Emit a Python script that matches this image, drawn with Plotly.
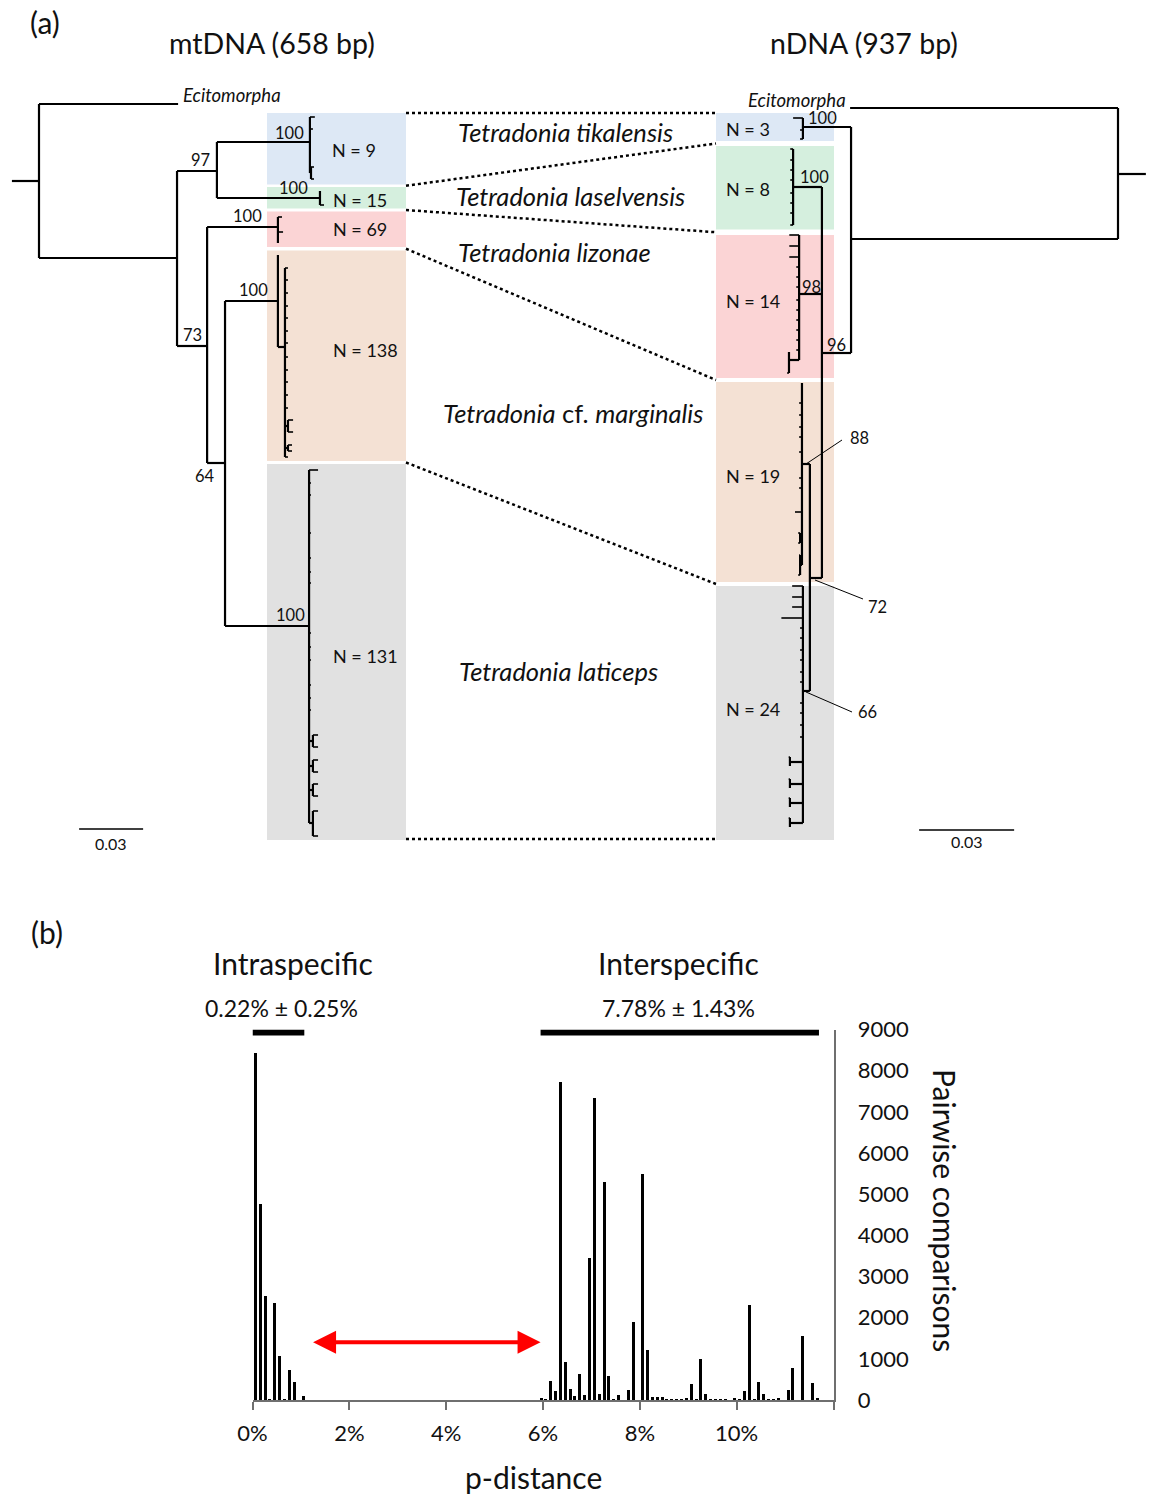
import plotly.graph_objects as go
from collections import defaultdict

FONT = "Lato"

# ---------------- Panel (b): pairwise p-distance histogram (%) ----------------
intra_pdist = [0.05, 0.15, 0.25, 0.35, 0.45, 0.55, 0.65, 0.75, 0.85, 1.05]
intra_count = [8450, 4770, 2550, 20, 2380, 1070, 30, 730, 440, 120]

inter_pdist = [5.95, 6.05, 6.15, 6.25, 6.35, 6.45, 6.55, 6.65, 6.75, 6.85,
               6.95, 7.05, 7.15, 7.25, 7.35, 7.45, 7.55, 7.75, 7.85, 8.05,
               8.15, 8.25, 8.35, 8.45, 8.55, 8.65, 8.75, 8.85, 8.95, 9.05,
               9.15, 9.25, 9.35, 9.45, 9.55, 9.65, 9.75, 9.95, 10.05, 10.15,
               10.25, 10.35, 10.45, 10.55, 10.65, 10.75, 10.85, 11.05, 11.15, 11.35,
               11.55, 11.65]
inter_count = [55, 15, 470, 220, 7730, 930, 280, 120, 640, 140,
               3470, 7350, 170, 5310, 600, 20, 140, 260, 1900, 5500,
               1220, 80, 80, 80, 20, 20, 20, 20, 60, 400,
               20, 1000, 170, 20, 20, 20, 20, 60, 20, 230,
               2320, 40, 460, 150, 20, 20, 60, 250, 790, 1570,
               420, 60]

group_names = ["Intraspecific", "Interspecific"]
group_stats = ["0.22% ± 0.25%", "7.78% ± 1.43%"]
group_spans = [[0.0, 1.07], [5.95, 11.7]]
barcode_gap = [1.22, 5.95]

x_ticks = [0, 2, 4, 6, 8, 10, 12]
x_ticktext = ["0%", "2%", "4%", "6%", "8%", "10%", ""]
y_ticks = [0, 1000, 2000, 3000, 4000, 5000, 6000, 7000, 8000, 9000]

# ---------------- Panel (a): trees (depth in substitutions/site, y = row) ----------------
mt_nodes = [
    ("stem", None, -0.0127, 181),
    ("root", "stem", 0.0, 181),
    ("Ecitomorpha", "root", 0.0652, 104),
    ("ingroup", "root", 0.0647, 258),
    ("n97", "ingroup", 0.0834, 171),
    ("tik", "n97", 0.1270, 142),
    ("tik1", "tik", 0.1293, 117),
    ("tik2", "tik", 0.1284, 129),
    ("tik3", "tik", 0.1275, 173),
    ("tik3a", "tik3", 0.1289, 167),
    ("tik3b", "tik3", 0.1289, 179),
    ("las", "n97", 0.1317, 198),
    ("las1", "las", 0.1317, 191),
    ("las2", "las", 0.1336, 205),
    ("n73", "ingroup", 0.0788, 346),
    ("liz", "n73", 0.1120, 227),
    ("liz1", "liz", 0.1139, 217),
    ("liz2", "liz", 0.1144, 232),
    ("liz3", "liz", 0.1120, 243),
    ("n64", "n73", 0.0872, 463),
    ("mar", "n64", 0.1120, 301),
    ("mar1", "mar", 0.1120, 255),
    ("mar2", "mar", 0.1153, 347),
    ("mar2c", "mar2", 0.1167, 426),
    ("mar2c1", "mar2c", 0.1191, 420),
    ("mar2c2", "mar2c", 0.1191, 432),
    ("mar2d", "mar2", 0.1167, 448),
    ("mar2d1", "mar2d", 0.1186, 445),
    ("mar2d2", "mar2d", 0.1186, 451),
    ("lat", "n64", 0.1266, 626),
    ("lat0", "lat", 0.1308, 470),
]
mt_mar2_tip_rows = [268, 280, 293, 306, 318, 331, 343, 357, 370, 382, 395, 408, 457]
mt_mar2_tip_depth = 0.1167
mt_lat_tip_rows = [483, 495, 533, 558, 572, 583, 633, 647, 660, 685, 698, 710]
mt_lat_tip_depth = 0.1275
mt_lat_sub_rows = [(741, 735, 747), (766, 760, 772), (790, 784, 796), (823, 811, 836)]
mt_lat_sub_depth = 0.1284
mt_lat_sub_tip_depth = 0.1308

n_nodes = [
    ("stem", None, -0.0088, 174),
    ("root", "stem", 0.0, 174),
    ("Ecitomorpha", "root", 0.0846, 108),
    ("ingroup", "root", 0.0843, 239),
    ("tik", "ingroup", 0.0995, 127),
    ("tik1", "tik", 0.1026, 118),
    ("tik2", "tik", 0.1004, 130),
    ("tik3", "tik", 0.1004, 139),
    ("n96", "ingroup", 0.0935, 353),
    ("las", "n96", 0.1026, 187),
    ("liz", "n96", 0.1007, 294),
    ("liz_s", "liz", 0.1039, 360),
    ("liz_s1", "liz_s", 0.1039, 352),
    ("liz_s2", "liz_s", 0.1045, 373),
    ("n72", "n96", 0.0973, 578),
    ("mar", "n72", 0.0998, 464),
    ("mar0", "mar", 0.0998, 383),
    ("mar_long", "mar", 0.1020, 512),
    ("mar_s1", "mar", 0.1004, 538),
    ("mar_s1a", "mar_s1", 0.1010, 533),
    ("mar_s1b", "mar_s1", 0.1010, 543),
    ("mar_s2", "mar", 0.1004, 565),
    ("mar_s2a", "mar_s2", 0.1007, 555),
    ("mar_s2b", "mar_s2", 0.1010, 575),
    ("lat", "n72", 0.0995, 691),
    ("lat_long", "lat", 0.1063, 618),
]
n_las_tip_rows = [149, 160, 170, 180, 193, 203, 213, 225]
n_las_tip_depth = 0.1035
n_liz_long_rows = [235, 246, 257]
n_liz_long_depth = 0.1038
n_liz_short_rows = [267, 277, 287, 300, 310, 320, 330, 340, 350]
n_liz_short_depth = 0.1016
n_mar_tip_rows = [403, 415, 427, 437, 452, 478, 488]
n_mar_tip_depth = 0.1007
n_lat_mid_rows = [586, 597, 607]
n_lat_mid_depth = 0.1029
n_lat_short_rows = [628, 638, 650, 660, 672, 682, 703, 713, 725, 737]
n_lat_short_depth = 0.1004
n_lat_sub_rows = [762, 784, 803, 823]
n_lat_sub_depth = 0.1036
n_lat_sub_tip_depth = 0.1040

# expand tip lists into node tables
for i, r in enumerate(mt_mar2_tip_rows):
    mt_nodes.append((f"mar2t{i}", "mar2", mt_mar2_tip_depth, r))
for i, r in enumerate(mt_lat_tip_rows):
    mt_nodes.append((f"latt{i}", "lat", mt_lat_tip_depth, r))
for i, (c, a, b) in enumerate(mt_lat_sub_rows):
    mt_nodes.append((f"lats{i}", "lat", mt_lat_sub_depth, c))
    mt_nodes.append((f"lats{i}a", f"lats{i}", mt_lat_sub_tip_depth, a))
    mt_nodes.append((f"lats{i}b", f"lats{i}", mt_lat_sub_tip_depth, b))

for i, r in enumerate(n_las_tip_rows):
    n_nodes.append((f"last{i}", "las", n_las_tip_depth, r))
for i, r in enumerate(n_liz_long_rows):
    n_nodes.append((f"lizl{i}", "liz", n_liz_long_depth, r))
for i, r in enumerate(n_liz_short_rows):
    n_nodes.append((f"lizs{i}", "liz", n_liz_short_depth, r))
for i, r in enumerate(n_mar_tip_rows):
    n_nodes.append((f"mart{i}", "mar", n_mar_tip_depth, r))
for i, r in enumerate(n_lat_mid_rows):
    n_nodes.append((f"latm{i}", "lat", n_lat_mid_depth, r))
for i, r in enumerate(n_lat_short_rows):
    n_nodes.append((f"latsh{i}", "lat", n_lat_short_depth, r))
for i, c in enumerate(n_lat_sub_rows):
    n_nodes.append((f"latsub{i}", "lat", n_lat_sub_depth, c))
    n_nodes.append((f"latsub{i}a", f"latsub{i}", n_lat_sub_tip_depth, c - 5))
    n_nodes.append((f"latsub{i}b", f"latsub{i}", n_lat_sub_depth, c + 4))

# bootstrap supports: (text, x_px, y_px)
mt_support = [("97", 200, 160), ("100", 289, 133), ("100", 293, 188), ("100", 247, 216),
              ("73", 192, 335), ("100", 253, 290), ("64", 205, 476), ("100", 290, 615)]
n_support = [("100", 822, 118), ("100", 814, 177), ("98", 811, 287), ("96", 836, 345)]
n_leader_support = [("88", (806, 464), (842, 440), (859, 438)),
                    ("72", (815, 580), (863, 599), (877, 607)),
                    ("66", (806, 692), (852, 712), (867, 712))]

species = ["<i>Tetradonia tikalensis</i>", "<i>Tetradonia laselvensis</i>",
           "<i>Tetradonia lizonae</i>", "<i>Tetradonia</i> cf. <i>marginalis</i>",
           "<i>Tetradonia laticeps</i>"]
species_pos = [(565, 132), (570, 196), (554, 252), (573, 413), (558, 671)]
mt_counts = ["N = 9", "N = 15", "N = 69", "N = 138", "N = 131"]
mt_count_pos = [(354, 150), (360, 200), (360, 229), (365, 350), (365, 656)]
n_counts = ["N = 3", "N = 8", "N = 14", "N = 19", "N = 24"]
n_count_pos = [(748, 129), (748, 189), (753, 301), (753, 476), (753, 709)]

box_colors = ["#dde8f5", "#d5efde", "#fbd4d5", "#f4e1d4", "#e1e1e1"]
mt_box_x = (267, 406)
n_box_x = (716, 834)
mt_box_y = [(113, 184.5), (187, 208.5), (211.5, 247), (250.5, 461), (464, 840)]
n_box_y = [(113, 141), (146, 229.5), (235, 378), (382, 582), (586, 840)]

# tree axis calibration (scale bar = 0.03 subs/site)
MT_ROOT_PX, MT_PX_PER_003 = 39, 64
N_ROOT_PX, N_PX_PER_003 = 1118, 95
W, H = 1152, 1500

fig = go.Figure()


def draw_tree(nodes, xaxis):
    depth, ypos, kids = {}, {}, defaultdict(list)
    for name, parent, d, y in nodes:
        depth[name] = d
        ypos[name] = y
        if parent is not None:
            kids[parent].append(name)
    tx, ty, fx, fy = [], [], [], []
    for name, parent, d, y in nodes:
        if parent is None:
            continue
        pd = depth[parent]
        if name not in kids and abs(d - pd) < 0.01:
            fx += [pd, d, None]
            fy += [y, y, None]
        else:
            tx += [pd, d, None]
            ty += [y, y, None]
    for name, ch in kids.items():
        ys = [ypos[c] for c in ch]
        if max(ys) > min(ys):
            tx += [depth[name], depth[name], None]
            ty += [min(ys), max(ys), None]
    fig.add_trace(go.Scatter(x=tx, y=ty, xaxis=xaxis, yaxis="y", mode="lines",
                             line=dict(color="black", width=2.2), hoverinfo="skip",
                             showlegend=False))
    fig.add_trace(go.Scatter(x=fx, y=fy, xaxis=xaxis, yaxis="y", mode="lines",
                             line=dict(color="black", width=1.6), hoverinfo="skip",
                             showlegend=False))


draw_tree(mt_nodes, "x2")
draw_tree(n_nodes, "x3")

# scale bars
mt_scale_start = 0.0188
n_scale_start = 0.0328
fig.add_trace(go.Scatter(x=[mt_scale_start, mt_scale_start + 0.03], y=[829, 829], xaxis="x2", yaxis="y",
                         mode="lines", line=dict(color="black", width=1.5), hoverinfo="skip", showlegend=False))
fig.add_trace(go.Scatter(x=[n_scale_start, n_scale_start + 0.03], y=[830, 830], xaxis="x3", yaxis="y",
                         mode="lines", line=dict(color="black", width=1.5), hoverinfo="skip", showlegend=False))

annotations = []


def txt(x, y, s, size, xref="x", yref="y", xanchor="center", angle=0, color="#111111"):
    annotations.append(dict(x=x, y=y, xref=xref, yref=yref, text=s, showarrow=False,
                            xanchor=xanchor, yanchor="middle", textangle=angle,
                            font=dict(family=FONT, size=size, color=color)))


txt(mt_scale_start + 0.015, 843, "0.03", 16, xref="x2")
txt(n_scale_start + 0.015, 841, "0.03", 16, xref="x3")

# histogram bars
fig.add_trace(go.Bar(x=intra_pdist, y=intra_count, width=0.062, marker=dict(color="black", line=dict(width=0)),
                     xaxis="x4", yaxis="y4", hoverinfo="skip", showlegend=False))
fig.add_trace(go.Bar(x=inter_pdist, y=inter_count, width=0.062, marker=dict(color="black", line=dict(width=0)),
                     xaxis="x4", yaxis="y4", hoverinfo="skip", showlegend=False))

shapes = []
# colored clade boxes
for (t, b), c in zip(mt_box_y, box_colors):
    shapes.append(dict(type="rect", xref="x", yref="y", x0=mt_box_x[0], x1=mt_box_x[1], y0=t, y1=b,
                       fillcolor=c, line=dict(width=0), layer="below"))
for (t, b), c in zip(n_box_y, box_colors):
    shapes.append(dict(type="rect", xref="x", yref="y", x0=n_box_x[0], x1=n_box_x[1], y0=t, y1=b,
                       fillcolor=c, line=dict(width=0), layer="below"))


def boundaries(boxes):
    out = [boxes[0][0]]
    for i in range(len(boxes) - 1):
        out.append((boxes[i][1] + boxes[i + 1][0]) / 2)
    out.append(boxes[-1][1] - 1)
    return out


for yl, yr in zip(boundaries(mt_box_y), boundaries(n_box_y)):
    shapes.append(dict(type="line", xref="x", yref="y", x0=mt_box_x[1], x1=n_box_x[0], y0=yl, y1=yr,
                       line=dict(color="black", width=2.5, dash="dot")))

# leader lines for nDNA supports
for s, p0, p1, lp in n_leader_support:
    shapes.append(dict(type="line", xref="x", yref="y", x0=p0[0], y0=p0[1], x1=p1[0], y1=p1[1],
                       line=dict(color="black", width=1)))
    txt(lp[0], lp[1], s, 16.5)

# group bars in panel b
for span in group_spans:
    shapes.append(dict(type="line", xref="x4", yref="y4", x0=span[0], x1=span[1], y0=8930, y1=8930,
                       line=dict(color="black", width=6)))

# texts panel a
txt(45, 22, "(a)", 30)
txt(272, 43, "mtDNA (658 bp)", 28.5)
txt(864, 43, "nDNA (937 bp)", 28.5)
txt(232, 95, "<i>Ecitomorpha</i>", 18.5)
txt(797, 100, "<i>Ecitomorpha</i>", 18.5)
for s, (x, y) in zip(species, species_pos):
    txt(x, y, s, 25.5)
for s, (x, y) in zip(mt_counts, mt_count_pos):
    txt(x, y, s, 18)
for s, (x, y) in zip(n_counts, n_count_pos):
    txt(x, y, s, 18)
for s, x, y in mt_support + n_support:
    txt(x, y, s, 16.5)

# texts panel b
txt(47, 932, "(b)", 30)
txt(293, 963, group_names[0], 30)
txt(281, 1008, group_stats[0], 23)
txt(678, 963, group_names[1], 30)
txt(678, 1008, group_stats[1], 23)
txt(533, 1477, "p-distance", 30)
txt(945, 1210, "Pairwise comparisons", 30, angle=90)

# red double arrow (barcode gap)
annotations.append(dict(x=barcode_gap[1], y=1400, ax=barcode_gap[0], ay=1400,
                        xref="x4", yref="y4", axref="x4", ayref="y4", text="",
                        showarrow=True, arrowhead=2, arrowside="end+start", arrowsize=1.15,
                        arrowwidth=4, arrowcolor="#ff0000", standoff=0, startstandoff=0))

mt_range = [-MT_ROOT_PX / (MT_PX_PER_003 / 0.03), (W - MT_ROOT_PX) / (MT_PX_PER_003 / 0.03)]
n_range = [N_ROOT_PX / (N_PX_PER_003 / 0.03), (N_ROOT_PX - W) / (N_PX_PER_003 / 0.03)]

AX_GRAY = "#6f6f6f"
fig.update_layout(
    width=W, height=H, margin=dict(l=0, r=0, t=0, b=0, pad=0, autoexpand=False), autosize=False,
    paper_bgcolor="white", plot_bgcolor="rgba(0,0,0,0)", showlegend=False,
    font=dict(family=FONT, color="#111111"),
    xaxis=dict(domain=[0, 1], range=[0, W], visible=False, fixedrange=True, automargin=False),
    yaxis=dict(domain=[0, 1], range=[H, 0], visible=False, fixedrange=True, automargin=False),
    xaxis2=dict(overlaying="x", anchor="y", domain=[0, 1], range=mt_range, visible=False, automargin=False),
    xaxis3=dict(overlaying="x", anchor="y", domain=[0, 1], range=n_range, visible=False, automargin=False),
    xaxis4=dict(domain=[252.5 / W, 833.5 / W], anchor="y4", range=[0, 12], automargin=False,
                showline=True, linecolor=AX_GRAY, linewidth=1.5, showgrid=False, zeroline=False,
                ticks="outside", ticklen=8, tickwidth=1.5, tickcolor=AX_GRAY,
                tickvals=x_ticks, ticktext=x_ticktext, ticklabelstandoff=5,
                tickfont=dict(family=FONT, size=22, color="#111111")),
    yaxis4=dict(domain=[(H - 1400) / H, (H - 1029.5) / H], anchor="x4", side="right", automargin=False,
                range=[0, 9000], showline=True, linecolor=AX_GRAY, linewidth=1.5,
                showgrid=False, zeroline=False, ticks="", tickvals=y_ticks,
                ticklabelstandoff=18, tickfont=dict(family=FONT, size=22, color="#111111")),
    shapes=shapes, annotations=annotations, bargap=0,
)

fig.write_html("out.html", config={"displayModeBar": False},
               post_script=("document.documentElement.style.margin='0';"
                            "document.body.style.margin='0';document.body.style.padding='0';"))
